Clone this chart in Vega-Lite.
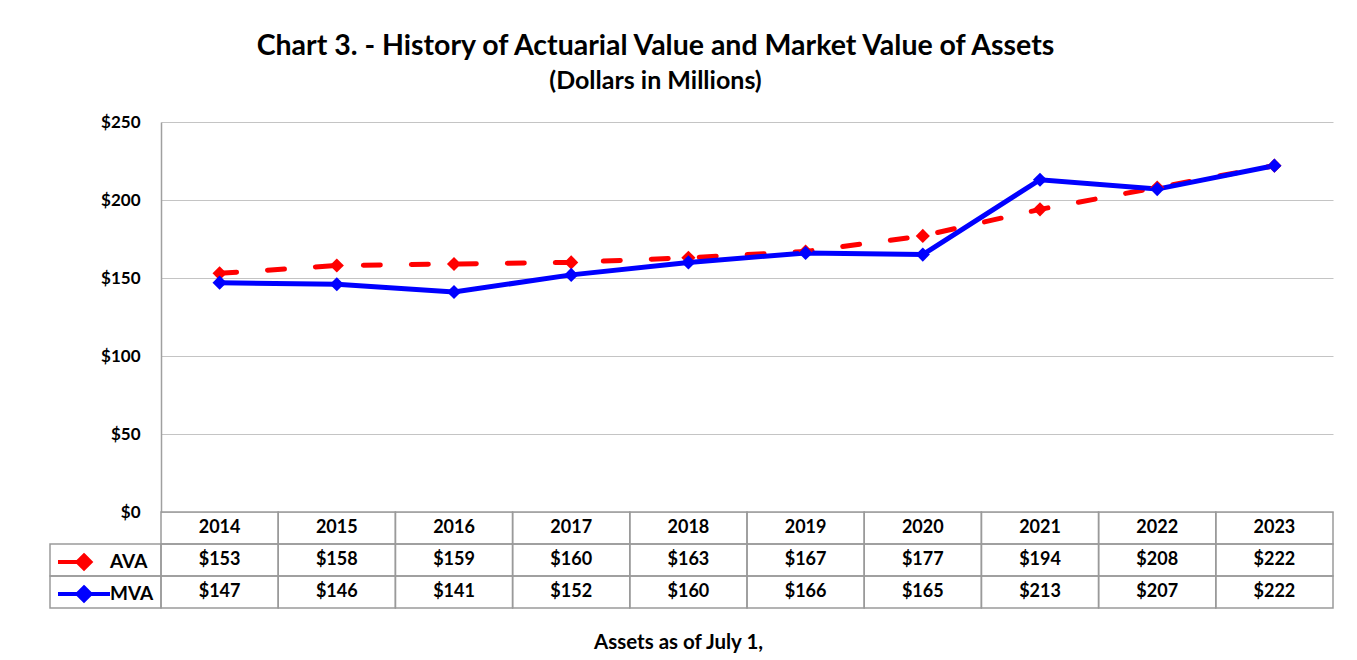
{
  "$schema": "https://vega.github.io/schema/vega-lite/v6.json",
  "background": "white",
  "padding": {"left": 49, "top": 31, "right": 0, "bottom": 0},
  "title": {
    "text": "Chart 3. - History of Actuarial Value and Market Value of Assets",
    "subtitle": "(Dollars in Millions)",
    "font": "Lato",
    "fontSize": 28.5,
    "fontWeight": "bold",
    "color": "black",
    "subtitleFont": "Lato",
    "subtitleFontSize": 25,
    "subtitleFontWeight": "bold",
    "subtitleColor": "black",
    "subtitlePadding": 9,
    "anchor": "middle",
    "dx": -36,
    "offset": 19
  },
  "datasets": {
    "assets": [
      {"year": "2014", "series": "AVA", "value": 153},
      {"year": "2015", "series": "AVA", "value": 158},
      {"year": "2016", "series": "AVA", "value": 159},
      {"year": "2017", "series": "AVA", "value": 160},
      {"year": "2018", "series": "AVA", "value": 163},
      {"year": "2019", "series": "AVA", "value": 167},
      {"year": "2020", "series": "AVA", "value": 177},
      {"year": "2021", "series": "AVA", "value": 194},
      {"year": "2022", "series": "AVA", "value": 208},
      {"year": "2023", "series": "AVA", "value": 222},
      {"year": "2014", "series": "MVA", "value": 147},
      {"year": "2015", "series": "MVA", "value": 146},
      {"year": "2016", "series": "MVA", "value": 141},
      {"year": "2017", "series": "MVA", "value": 152},
      {"year": "2018", "series": "MVA", "value": 160},
      {"year": "2019", "series": "MVA", "value": 166},
      {"year": "2020", "series": "MVA", "value": 165},
      {"year": "2021", "series": "MVA", "value": 213},
      {"year": "2022", "series": "MVA", "value": 207},
      {"year": "2023", "series": "MVA", "value": 222}
    ]
  },
  "data": {"name": "assets"},
  "columns": 2,
  "spacing": 0,
  "bounds": "flush",
  "concat": [
    {
      "width": 111,
      "height": 390,
      "data": {"values": []},
      "mark": {"type": "rect", "opacity": 0},
      "encoding": {}
    },
    {
      "width": 1172,
      "height": 390,
      "encoding": {
        "x": {"field": "year", "type": "ordinal", "scale": {"type": "point", "padding": 0.5}, "axis": null},
        "y": {
          "field": "value",
          "type": "quantitative",
          "scale": {"domain": [0, 250]},
          "axis": {
            "values": [0, 50, 100, 150, 200, 250],
            "format": "$.0f",
            "grid": true,
            "gridColor": "#c4c4c4",
            "gridWidth": 1,
            "domain": true,
            "domainColor": "#a0a0a0",
            "domainWidth": 1.5,
            "ticks": false,
            "labelPadding": 21,
            "labelFont": "Lato",
            "labelFontWeight": "bold",
            "labelFontSize": 17,
            "labelColor": "black",
            "title": null
          }
        }
      },
      "layer": [
        {
          "transform": [{"filter": "datum.series === 'AVA'"}],
          "mark": {"type": "line", "color": "#FF0000", "strokeWidth": 5, "strokeCap": "round", "strokeDash": [17, 31]}
        },
        {
          "transform": [{"filter": "datum.series === 'MVA'"}],
          "mark": {"type": "line", "strokeWidth": 5, "strokeCap": "round"},
          "encoding": {
            "color": {
              "field": "series",
              "type": "nominal",
              "scale": {"domain": ["AVA", "MVA"], "range": ["#FF0000", "#0000FF"]},
              "legend": {
                "orient": "none",
                "legendX": -89,
                "legendY": 428,
                "title": null,
                "padding": 0,
                "symbolType": "M-2.6,0H2.6M0,-0.65L0.65,0L0,0.65L-0.65,0Z",
                "symbolSize": 400,
                "symbolStrokeWidth": 4,
                "labelFont": "Lato",
                "labelFontWeight": "bold",
                "labelFontSize": 19,
                "labelColor": "black",
                "labelOffset": 14,
                "rowPadding": 2,
                "encode": {
                  "symbols": {
                    "update": {
                      "shape": {"signal": "datum.value === 'AVA' ? 'M-2.6,0H0.4M0,-0.65L0.65,0L0,0.65L-0.65,0Z' : 'M-2.6,0H2.6M0,-0.65L0.65,0L0,0.65L-0.65,0Z'"},
                      "fill": {"signal": "datum.value === 'AVA' ? '#FF0000' : '#0000FF'"},
                      "stroke": {"signal": "datum.value === 'AVA' ? '#FF0000' : '#0000FF'"},
                      "opacity": {"value": 1}
                    }
                  }
                }
              }
            }
          }
        },
        {
          "mark": {"type": "point", "shape": "diamond", "filled": true, "size": 200, "opacity": 1},
          "encoding": {
            "color": {
              "field": "series",
              "type": "nominal",
              "scale": {"domain": ["AVA", "MVA"], "range": ["#FF0000", "#0000FF"]},
              "legend": {
                "orient": "none",
                "legendX": -89,
                "legendY": 428,
                "title": null,
                "padding": 0,
                "symbolType": "M-2.6,0H2.6M0,-0.65L0.65,0L0,0.65L-0.65,0Z",
                "symbolSize": 400,
                "symbolStrokeWidth": 4,
                "labelFont": "Lato",
                "labelFontWeight": "bold",
                "labelFontSize": 19,
                "labelColor": "black",
                "labelOffset": 14,
                "rowPadding": 2,
                "encode": {
                  "symbols": {
                    "update": {
                      "shape": {"signal": "datum.value === 'AVA' ? 'M-2.6,0H0.4M0,-0.65L0.65,0L0,0.65L-0.65,0Z' : 'M-2.6,0H2.6M0,-0.65L0.65,0L0,0.65L-0.65,0Z'"},
                      "fill": {"signal": "datum.value === 'AVA' ? '#FF0000' : '#0000FF'"},
                      "stroke": {"signal": "datum.value === 'AVA' ? '#FF0000' : '#0000FF'"},
                      "opacity": {"value": 1}
                    }
                  }
                }
              }
            }
          }
        }
      ]
    },
    {
      "width": 111,
      "height": 96,
      "transform": [{"filter": "datum.year === '2014'"}],
      "mark": {"type": "rect", "fillOpacity": 0, "stroke": "#9a9a9a", "strokeWidth": 1.5},
      "encoding": {
        "y": {
          "field": "series",
          "type": "nominal",
          "scale": {"type": "band", "domain": ["Year", "AVA", "MVA"], "paddingInner": 0, "paddingOuter": 0},
          "axis": null
        }
      }
    },
    {
      "width": 1172,
      "height": 96,
      "encoding": {
        "x": {
          "field": "year",
          "type": "ordinal",
          "scale": {"type": "band", "paddingInner": 0, "paddingOuter": 0},
          "axis": {
            "orient": "bottom",
            "labels": false,
            "ticks": false,
            "domain": false,
            "grid": false,
            "title": "Assets as of July 1,",
            "titleX": 517,
            "titleY": 40,
            "titleBaseline": "alphabetic",
            "titleAlign": "center",
            "titleFont": "Lato",
            "titleFontWeight": "bold",
            "titleFontSize": 20.5,
            "titleColor": "black"
          }
        }
      },
      "layer": [
        {
          "mark": {"type": "rect", "fillOpacity": 0, "stroke": "#9a9a9a", "strokeWidth": 1.5},
          "encoding": {
            "y": {
              "field": "series",
              "type": "nominal",
              "scale": {"type": "band", "domain": ["Year", "AVA", "MVA"], "paddingInner": 0, "paddingOuter": 0},
              "axis": null
            }
          }
        },
        {
          "transform": [{"filter": "datum.series === 'AVA'"}],
          "mark": {"type": "rect", "fillOpacity": 0, "stroke": "#9a9a9a", "strokeWidth": 1.5},
          "encoding": {"y": {"datum": "Year", "type": "nominal"}}
        },
        {
          "mark": {"type": "text", "font": "Lato", "fontWeight": "bold", "fontSize": 18, "color": "black", "baseline": "middle", "align": "center"},
          "encoding": {
            "y": {"field": "series", "type": "nominal"},
            "text": {"field": "value", "type": "quantitative", "format": "$.0f"}
          }
        },
        {
          "transform": [{"filter": "datum.series === 'AVA'"}],
          "mark": {"type": "text", "font": "Lato", "fontWeight": "bold", "fontSize": 18, "color": "black", "baseline": "middle", "align": "center"},
          "encoding": {
            "y": {"datum": "Year", "type": "nominal"},
            "text": {"field": "year", "type": "nominal"}
          }
        }
      ]
    }
  ],
  "resolve": {
    "scale": {"color": "independent"},
    "legend": {"color": "independent"}
  },
  "config": {
    "font": "Lato",
    "view": {"stroke": null}
  }
}
